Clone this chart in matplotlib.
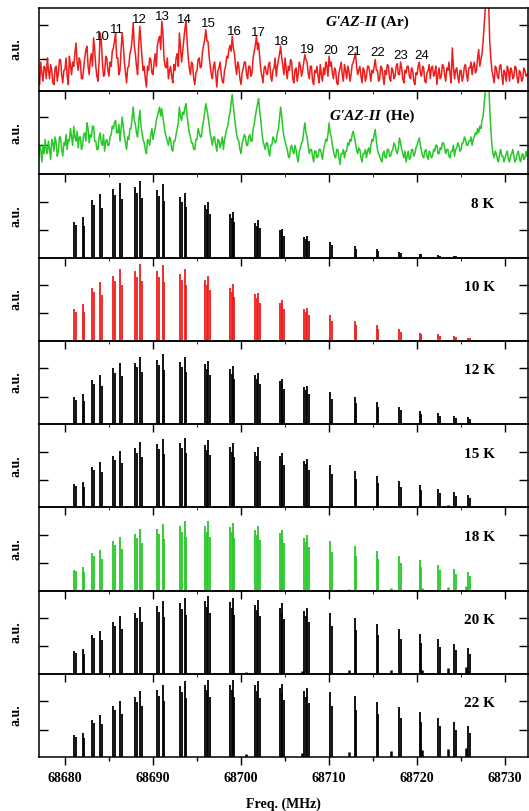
import numpy as np
import matplotlib.pyplot as plt
from matplotlib.ticker import MultipleLocator

# experimental traces: one row per MHz starting at 68677 MHz, 8 samples per MHz
# (values in % of panel height)
trace_start = 68677.0
trace_step = 0.125
ar_rows = [
    [20, 8, 35, 22, 12, 30, 28, 15], [40, 25, 15, 32, 25, 10, 8, 28],
    [30, 12, 22, 38, 38, 20, 10, 25], [26, 40, 18, 8, 42, 30, 20, 35],
    [30, 45, 58, 35, 25, 40, 35, 15], [15, 28, 40, 50, 54, 30, 20, 38],
    [45, 30, 64, 50, 30, 18, 12, 35], [70, 60, 35, 18, 20, 42, 40, 25],
    [18, 35, 30, 48, 52, 60, 70, 40], [40, 20, 25, 50, 70, 55, 35, 22],
    [10, 28, 30, 45, 50, 62, 82, 55], [45, 30, 20, 55, 78, 60, 40, 25],
    [30, 15, 5, 30, 25, 40, 38, 22], [20, 35, 45, 30, 55, 62, 66, 50],
    [84, 70, 40, 30, 28, 40, 15, 25], [30, 18, 10, 32, 25, 40, 45, 30],
    [70, 52, 35, 48, 60, 75, 84, 60], [40, 28, 20, 35, 32, 15, 8, 22],
    [25, 38, 40, 28, 30, 48, 55, 62], [74, 60, 60, 42, 30, 20, 15, 30],
    [35, 20, 5, 25, 28, 35, 20, 12], [10, 25, 30, 42, 40, 50, 55, 48],
    [66, 52, 45, 30, 20, 35, 30, 15], [8, 22, 28, 35, 35, 20, 15, 30],
    [30, 18, 22, 40, 48, 55, 66, 50], [58, 40, 25, 18, 10, 28, 30, 22],
    [20, 32, 35, 18, 12, 25, 28, 40], [18, 30, 38, 45, 54, 40, 30, 20],
    [40, 28, 15, 30, 25, 38, 35, 15], [10, 25, 28, 12, 20, 35, 30, 18],
    [25, 35, 44, 38, 35, 22, 15, 30], [30, 12, 8, 25, 22, 30, 18, 10],
    [32, 20, 12, 28, 20, 35, 30, 18], [42, 30, 35, 22, 15, 28, 25, 10],
    [8, 22, 28, 35, 20, 12, 32, 25], [15, 30, 25, 12, 20, 32, 35, 40],
    [46, 30, 20, 25, 30, 18, 10, 28], [25, 12, 18, 30, 30, 22, 12, 25],
    [22, 30, 38, 25, 25, 12, 15, 30], [28, 18, 8, 25, 20, 32, 30, 15],
    [12, 28, 25, 15, 18, 30, 33, 20], [20, 35, 28, 15, 10, 25, 22, 30],
    [30, 18, 15, 28, 25, 12, 8, 22], [20, 30, 35, 22, 18, 30, 28, 12],
    [10, 22, 25, 32, 15, 28, 30, 18], [22, 30, 8, 20, 28, 15, 18, 32],
    [30, 20, 12, 28, 25, 35, 20, 10], [52, 30, 15, 25, 28, 18, 10, 25],
    [25, 12, 18, 30, 32, 20, 12, 28], [28, 35, 20, 30, 35, 22, 25, 40],
    [50, 30, 38, 45, 60, 80, 100, 120], [130, 110, 60, 40, 25, 18, 10, 30],
    [28, 18, 15, 30, 32, 20, 8, 25], [22, 12, 30, 25, 12, 28, 25, 15],
    [18, 30, 28, 15, 10, 25, 22, 12], [15, 28, 25, 18, 20],
]
he_rows = [
    [20, 35, 30, 15, 35, 25, 42, 30], [25, 40, 30, 18, 42, 38, 28, 45],
    [38, 22, 28, 45, 45, 30, 22, 38], [35, 48, 30, 42, 40, 55, 45, 35],
    [58, 45, 40, 52, 32, 45, 45, 30], [35, 48, 50, 40, 62, 55, 38, 48],
    [45, 58, 58, 40, 40, 30, 30, 45], [50, 38, 35, 48, 28, 40, 42, 35],
    [35, 45, 48, 58, 55, 62, 65, 50], [50, 60, 40, 55, 69, 58, 45, 38],
    [30, 45, 42, 55, 55, 68, 81, 65], [60, 50, 45, 62, 77, 60, 50, 42],
    [38, 30, 25, 42, 40, 35, 48, 55], [42, 50, 55, 65, 70, 75, 81, 70],
    [79, 68, 60, 50, 45, 40, 35, 45], [42, 30, 28, 40, 40, 48, 55, 62],
    [81, 70, 65, 75, 72, 80, 85, 70], [60, 50, 45, 38, 38, 30, 30, 42],
    [42, 55, 50, 45, 45, 58, 65, 75], [85, 78, 70, 60, 50, 42, 35, 45],
    [45, 35, 28, 42, 40, 32, 38, 45], [30, 42, 48, 55, 58, 68, 75, 85],
    [96, 82, 70, 58, 48, 42, 40, 30], [25, 38, 42, 48, 45, 35, 35, 45],
    [48, 40, 40, 55, 60, 70, 78, 85], [91, 75, 65, 50, 40, 35, 30, 38],
    [38, 28, 22, 35, 35, 45, 42, 38], [40, 50, 55, 68, 81, 70, 55, 45],
    [40, 35, 30, 22, 20, 32, 35, 28], [25, 35, 30, 20, 15, 28, 32, 38],
    [40, 52, 62, 50, 45, 35, 25, 30], [30, 22, 15, 28, 28, 20, 22, 30],
    [30, 25, 18, 30, 35, 42, 40, 48], [62, 50, 45, 35, 28, 22, 20, 30],
    [30, 20, 12, 25, 25, 30, 20, 28], [28, 38, 35, 42, 40, 48, 52, 45],
    [38, 30, 25, 32, 30, 20, 15, 25], [25, 30, 20, 28, 32, 25, 35, 42],
    [40, 48, 54, 40, 30, 25, 22, 18], [15, 25, 28, 20, 20, 30, 30, 22],
    [22, 28, 30, 38, 35, 28, 25, 32], [44, 38, 30, 25, 20, 28, 15, 22],
    [28, 18, 20, 30, 30, 22, 25, 32], [35, 40, 44, 35, 28, 22, 20, 28],
    [30, 22, 18, 28, 25, 20, 22, 30], [28, 35, 35, 25, 25, 32, 30, 38],
    [38, 32, 25, 30, 30, 22, 20, 28], [28, 35, 22, 30, 32, 38, 35, 28],
    [30, 38, 38, 45, 42, 35, 35, 40], [40, 45, 35, 42, 45, 50, 48, 55],
    [50, 58, 55, 65, 70, 85, 100, 120], [130, 115, 80, 55, 35, 25, 20, 28],
    [25, 18, 15, 25, 30, 22, 22, 15], [20, 25, 28, 18, 15, 22, 25, 30],
    [22, 15, 18, 25, 28, 20, 15, 22], [25, 18, 20, 28, 22],
]

# J labels in the Ar spectrum
j_labels = ['10', '11', '12', '13', '14', '15', '16', '17', '18', '19', '20', '21', '22', '23', '24']
j_x = [68684.2, 68685.9, 68688.4, 68691.1, 68693.6, 68696.3, 68699.2, 68702.0,
       68704.6, 68707.5, 68710.2, 68712.8, 68715.5, 68718.1, 68720.5]
j_y = [0.65, 0.74, 0.86, 0.895, 0.85, 0.81, 0.715, 0.70, 0.594, 0.494, 0.485, 0.473, 0.454, 0.425, 0.425]

# simulated stick spectra
freq_a = [68681.0, 68683.1, 68685.5, 68688.0, 68690.5, 68693.1, 68695.9, 68698.75, 68701.6, 68704.4, 68707.2]
freq_b = [68682.0, 68684.0, 68686.3, 68688.5, 68691.1, 68693.6, 68696.3, 68699.05, 68701.9, 68704.7,
          68707.5, 68710.15, 68712.9, 68715.4, 68718.0, 68720.3, 68722.35, 68724.2, 68725.8]
freq_c = [68700.6, 68706.9, 68712.3, 68717.0, 68720.6, 68723.5, 68725.6]
doublet_split = 0.2
ratio_a = 0.92
ratio_b = 0.78

temps = ['8 K', '10 K', '12 K', '15 K', '18 K', '20 K', '22 K']
heights_a = [
    [0.43, 0.69, 0.82, 0.85, 0.81, 0.73, 0.63, 0.52, 0.42, 0.33, 0.25],
    [0.38, 0.64, 0.78, 0.84, 0.84, 0.80, 0.73, 0.64, 0.56, 0.46, 0.38],
    [0.32, 0.53, 0.67, 0.74, 0.77, 0.75, 0.72, 0.66, 0.59, 0.52, 0.44],
    [0.28, 0.49, 0.62, 0.71, 0.76, 0.77, 0.75, 0.72, 0.67, 0.62, 0.56],
    [0.25, 0.45, 0.59, 0.68, 0.74, 0.77, 0.77, 0.76, 0.73, 0.69, 0.63],
    [0.27, 0.47, 0.62, 0.73, 0.81, 0.85, 0.87, 0.86, 0.83, 0.79, 0.75],
    [0.26, 0.45, 0.61, 0.72, 0.80, 0.85, 0.87, 0.87, 0.86, 0.83, 0.79],
]
heights_b = [
    [0.49, 0.77, 0.90, 0.92, 0.88, 0.78, 0.67, 0.55, 0.45, 0.34, 0.26, 0.19, 0.14, 0.10, 0.07, 0.05, 0.03, 0.02, 0.01],
    [0.44, 0.71, 0.86, 0.92, 0.91, 0.86, 0.78, 0.68, 0.58, 0.49, 0.40, 0.31, 0.24, 0.19, 0.14, 0.10, 0.08, 0.06, 0.04],
    [0.36, 0.59, 0.74, 0.81, 0.84, 0.81, 0.76, 0.70, 0.62, 0.54, 0.46, 0.39, 0.32, 0.26, 0.21, 0.16, 0.13, 0.10, 0.08],
    [0.31, 0.54, 0.68, 0.78, 0.82, 0.83, 0.81, 0.77, 0.72, 0.65, 0.58, 0.51, 0.44, 0.38, 0.32, 0.27, 0.22, 0.18, 0.15],
    [0.28, 0.49, 0.64, 0.74, 0.80, 0.83, 0.83, 0.81, 0.78, 0.73, 0.67, 0.60, 0.54, 0.48, 0.42, 0.37, 0.31, 0.26, 0.22],
    [0.30, 0.52, 0.69, 0.80, 0.88, 0.91, 0.93, 0.91, 0.89, 0.85, 0.79, 0.73, 0.67, 0.60, 0.54, 0.48, 0.42, 0.36, 0.31],
    [0.29, 0.51, 0.67, 0.79, 0.87, 0.91, 0.93, 0.93, 0.91, 0.88, 0.83, 0.78, 0.73, 0.66, 0.60, 0.54, 0.47, 0.42, 0.37],
]
heights_c = [
    [0, 0, 0, 0, 0, 0, 0],
    [0, 0, 0, 0, 0, 0, 0],
    [0, 0, 0, 0, 0, 0, 0],
    [0, 0, 0, 0.02, 0, 0.03, 0],
    [0, 0, 0.02, 0.03, 0.03, 0.04, 0.05],
    [0.02, 0.03, 0.04, 0.05, 0.05, 0.07, 0.08],
    [0.04, 0.05, 0.06, 0.07, 0.09, 0.10, 0.11],
]

RED = '#f01c1c'
GREEN = '#28c828'
stick_colors = ['black', RED, 'black', 'black', GREEN, 'black', 'black']
SERIF = 'Liberation Serif'


def trace_xy(rows):
    xs, ys = [], []
    for r, row in enumerate(rows):
        xs.extend(trace_start + r + trace_step*np.arange(len(row)))
        ys.extend(np.array(row)/100)
    return np.array(xs), np.array(ys)


fig, axes = plt.subplots(9, 1, figsize=(5.29, 8.11), dpi=100, sharex=True)
fig.subplots_adjust(left=39/529, right=528/529, top=1-8/811, bottom=1-757/811, hspace=0)

# top: Ar spectrum
ax = axes[0]
x, y = trace_xy(ar_rows)
ax.plot(x, y, color=RED, lw=1.1)
ax.set_yticks([0.39, 0.79])
for lab, xx, yy in zip(j_labels, j_x, j_y):
    ax.text(xx, yy, lab, ha='center', va='center', fontsize=9.5, family='Liberation Sans')
t = ax.text(0.585, 0.83, "G'AZ-II", transform=ax.transAxes, ha='left', va='center',
            fontsize=11, fontweight='bold', style='italic', family=SERIF)
ax.annotate(" (Ar)", xy=(1, 0), xycoords=t, ha='left', va='bottom',
            fontsize=11, fontweight='bold', family=SERIF)

# He spectrum
ax = axes[1]
x, y = trace_xy(he_rows)
ax.plot(x, y, color=GREEN, lw=1.1)
ax.set_yticks([0.35, 0.69])
t = ax.text(0.595, 0.70, "G'AZ-II", transform=ax.transAxes, ha='left', va='center',
            fontsize=11, fontweight='bold', style='italic', family=SERIF)
ax.annotate(" (He)", xy=(1, 0), xycoords=t, ha='left', va='bottom',
            fontsize=11, fontweight='bold', family=SERIF)

# stick spectra at each temperature
for k, T in enumerate(temps):
    ax = axes[k + 2]
    c = stick_colors[k]
    fa = np.array(freq_a)
    fb = np.array(freq_b)
    ha = np.array(heights_a[k])
    hb = np.array(heights_b[k])
    ax.vlines(fa, 0, ha, color=c, lw=1.3)
    ax.vlines(fa + doublet_split, 0, ha*ratio_a, color=c, lw=1.3)
    ax.vlines(fb, 0, hb, color=c, lw=1.3)
    ax.vlines(fb + doublet_split, 0, hb*ratio_b, color=c, lw=1.3)
    ax.vlines(freq_c, 0, heights_c[k], color=c, lw=1.8)
    ax.set_yticks([0.33, 0.67])
    ax.text(0.932, 0.64, T, transform=ax.transAxes, ha='right', va='center',
            fontsize=11, fontweight='bold', family=SERIF)

for ax in axes:
    ax.set_facecolor('none')
    ax.set_ylim(0, 1)
    ax.set_xlim(68677.05, 68732.6)
    ax.tick_params(axis='y', direction='in', length=6.5, width=1, left=True, right=True, labelleft=False)
    ax.tick_params(axis='x', which='major', direction='out', length=6, width=1, top=False, bottom=True)
    for s in ax.spines.values():
        s.set_linewidth(1.1)
    ax.set_ylabel('a.u.', fontsize=10, fontweight='bold', family=SERIF)
    ax.yaxis.set_label_coords(-0.033, 0.5)

last = axes[-1]
last.xaxis.set_major_locator(MultipleLocator(10))
last.xaxis.set_minor_locator(MultipleLocator(5))
last.tick_params(axis='x', which='minor', direction='out', length=3, width=1)
last.tick_params(axis='x', which='major', pad=5)
for lab in last.get_xticklabels():
    lab.set_fontfamily(SERIF)
    lab.set_fontweight('bold')
    lab.set_fontsize(10)
last.ticklabel_format(axis='x', useOffset=False, style='plain')

fig.text(283.5/529, 1-804/811, 'Freq. (MHz)', ha='center', va='center',
         fontsize=10, fontweight='bold', family=SERIF)

fig.savefig('out.png', dpi=100, facecolor='white')
